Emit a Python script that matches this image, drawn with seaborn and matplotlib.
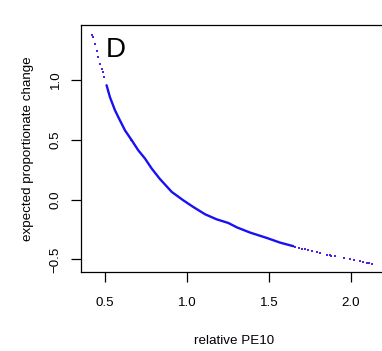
import matplotlib
matplotlib.use("Agg")
import matplotlib.pyplot as plt
import seaborn as sns
import pandas as pd

# dense part of the point cloud (reads as a thick line)
x_dense = [0.51, 0.53, 0.561, 0.591, 0.622, 0.663, 0.703, 0.744, 0.785, 0.835,
           0.907, 0.977, 1.038, 1.11, 1.18, 1.252, 1.303, 1.384, 1.486, 1.567, 1.648]
y_dense = [0.956, 0.858, 0.747, 0.663, 0.579, 0.496, 0.412, 0.343, 0.259, 0.172,
           0.064, -0.006, -0.062, -0.123, -0.165, -0.196, -0.232, -0.276, -0.321, -0.36, -0.39]

# sparse points at both ends
x_sparse = [0.419, 0.425, 0.439, 0.449, 0.455, 0.47, 0.48, 0.486, 0.494,
            1.66, 1.683, 1.70, 1.72, 1.74, 1.76, 1.79, 1.81, 1.856, 1.87, 1.88, 1.90,
            1.957, 1.994, 2.02, 2.055, 2.071, 2.096, 2.11, 2.126]
y_sparse = [1.38, 1.36, 1.30, 1.24, 1.19, 1.13, 1.095, 1.067, 1.025,
            -0.396, -0.407, -0.412, -0.416, -0.423, -0.43, -0.44, -0.449, -0.463, -0.465,
            -0.468, -0.471, -0.488, -0.497, -0.507, -0.516, -0.524, -0.527, -0.532, -0.538]

# a few reddish points inside the dense band
x_red = [0.52, 0.66, 1.05, 1.45, 1.58]
y_red = [0.905, 0.502, -0.072, -0.305, -0.365]

x_ticks = [0.5, 1.0, 1.5, 2.0]
y_ticks = [-0.5, 0.0, 0.5, 1.0]

sns.set_style("ticks")
plt.rcParams['font.family'] = ['Liberation Sans', 'DejaVu Sans']
plt.rcParams['text.color'] = 'black'
plt.rcParams['axes.labelcolor'] = 'black'

fig = plt.figure(figsize=(3.82, 3.51), dpi=100)
ax = fig.add_axes([81/382, 1 - 272/351, (387 - 81)/382, (272 - 25)/351])

dense = pd.DataFrame({"x": x_dense, "y": y_dense})
sparse = pd.DataFrame({"x": x_sparse, "y": y_sparse})
red = pd.DataFrame({"x": x_red, "y": y_red})

sns.lineplot(data=dense, x="x", y="y", ax=ax, color="#1a10f5", linewidth=1.7, sort=False)
sns.scatterplot(data=sparse, x="x", y="y", ax=ax, color="#5020e8", s=4, marker="s", linewidth=0)
sns.scatterplot(data=red, x="x", y="y", ax=ax, color="#b02050", s=3, marker="s", linewidth=0)

ax.set_xlim(0.354, 2.219)
ax.set_ylim(-0.606, 1.46)
ax.set_xticks(x_ticks)
ax.set_xticklabels([f"{v:.1f}" for v in x_ticks])
ax.set_yticks(y_ticks)
ax.set_yticklabels(["\u22120.5", "0.0", "0.5", "1.0"], rotation=90, va="center")

for s in ax.spines.values():
    s.set_visible(True)
    s.set_color("black")
    s.set_linewidth(0.9)

ax.tick_params(axis="both", direction="out", length=7, width=0.9, colors="black",
               labelcolor="black", labelsize=9.6)
ax.tick_params(axis="x", pad=11)
ax.tick_params(axis="y", pad=7)

ax.set_xlabel("relative PE10", fontsize=9.6, labelpad=19, color="black")
ax.set_ylabel("expected proportionate change", fontsize=9.6, labelpad=11, color="black")

ax.text(0.505, 1.19, "D", fontsize=20, ha="left", va="baseline", color="black")

fig.savefig("out.png", dpi=100)
